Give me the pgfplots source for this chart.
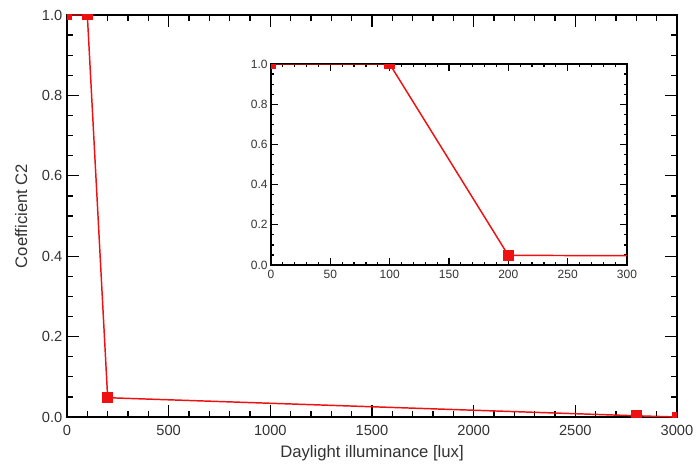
\documentclass[border=0pt]{standalone}
\usepackage{pgfplots}
\pgfplotsset{compat=1.18}
\usepackage{fontspec}
\setmainfont{Liberation Sans}
\definecolor{txt}{HTML}{333333}
\definecolor{lred}{HTML}{EE1111}
\pgfplotstableread{
x y
0 1
100 1
200 0.048
2800 0.003
3000 0
}\datatable
\begin{document}
\begin{tikzpicture}
\path[use as bounding box] (-50.25pt,-36pt) rectangle (472.5pt,312.75pt);
\pgfplotsset{
  every axis/.append style={
    scale only axis, axis line style={black, line width=1.1pt},
    tick style={black, line width=0.9pt},
    tick align=inside, clip marker paths=true,
    /pgf/number format/assume math mode=true,
    ticklabel style={text=txt},
    label style={text=txt},
  },
}
\begin{axis}[
  at={(0pt,0pt)}, anchor=south west,
  width=457.5pt, height=301.5pt,
  xmin=0, xmax=3000, ymin=0, ymax=1,
  xtick={0,500,...,3000}, minor x tick num=4,
  ytick={0,0.2,...,1.0}, minor y tick num=3,
  major tick length=9pt, minor tick length=4.5pt,
  /pgf/number format/.cd, fixed, fixed zerofill, precision=1, 1000 sep={},
  /pgfplots/.cd,
  xticklabel style={/pgf/number format/precision=0, /pgf/number format/fixed zerofill=false},
  ticklabel style={font=\fontsize{11}{13}\selectfont},
  xlabel={Daylight illuminance [lux]},
  ylabel={Coefficient C2},
  label style={font=\fontsize{12.5}{14}\selectfont},
  xlabel style={yshift=0pt},
  ylabel style={yshift=4pt},
  xticklabel style={yshift=-3pt},
]
\addplot[lred, line width=1.1pt, mark=square*, mark size=3.5pt, mark options={fill=lred, draw=lred}]
table[x=x, y=y] {\datatable};
\end{axis}
\begin{axis}[
  at={(153pt,114pt)}, anchor=south west,
  width=267pt, height=150.75pt,
  xmin=0, xmax=300, ymin=0, ymax=1,
  xtick={0,50,...,300}, minor x tick num=4,
  ytick={0,0.2,...,1.0}, minor y tick num=3,
  major tick length=5pt, minor tick length=2.5pt,
  axis background/.style={fill=white},
  /pgf/number format/.cd, fixed, fixed zerofill, precision=1, 1000 sep={},
  /pgfplots/.cd,
  xticklabel style={/pgf/number format/precision=0, /pgf/number format/fixed zerofill=false},
  ticklabel style={font=\fontsize{9}{10.5}\selectfont},
  yticklabel style={xshift=1pt},
]
\addplot[lred, line width=1.1pt, mark=square*, mark size=3.5pt, mark options={fill=lred, draw=lred}]
table[x=x, y=y] {\datatable};
\end{axis}
\end{tikzpicture}
\end{document}
